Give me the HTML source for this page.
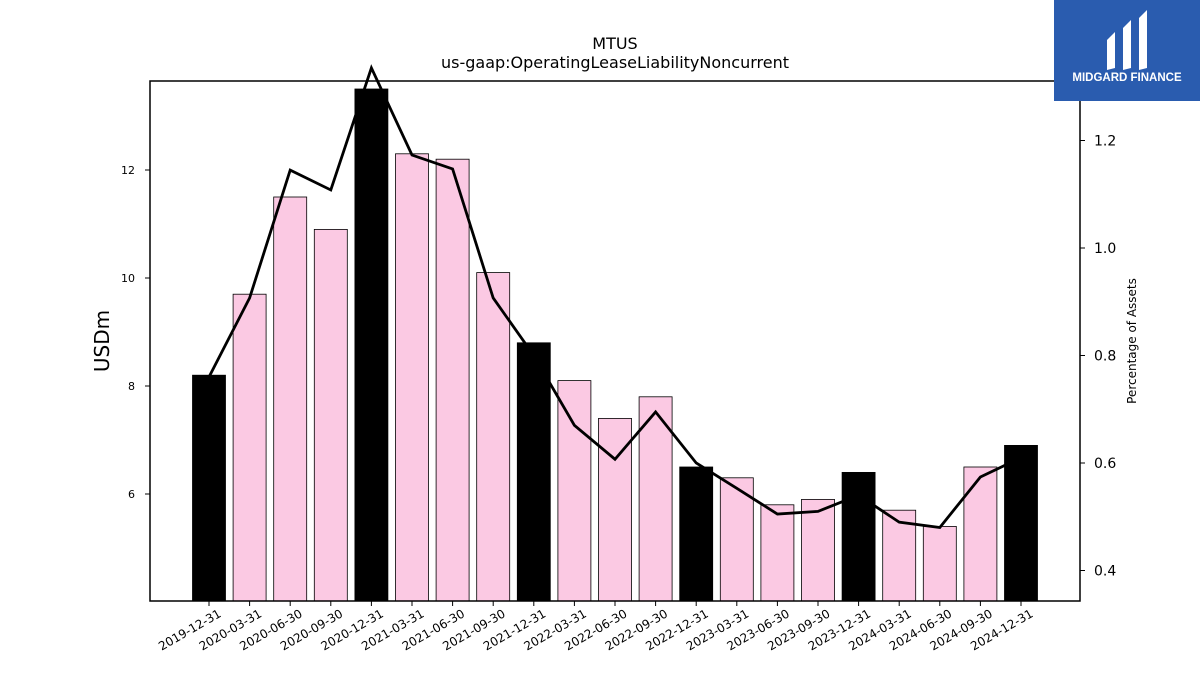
<!DOCTYPE html>
<html><head><meta charset="utf-8"><style>
body{margin:0;background:#fff;font-family:"Liberation Sans","DejaVu Sans",sans-serif}
svg text{font-family:"DejaVu Sans","Liberation Sans",sans-serif}
</style></head><body>
<svg id="c" width="1200" height="675" xmlns="http://www.w3.org/2000/svg">
<text x="615" y="49" text-anchor="middle" font-size="16">MTUS</text>
<text x="615" y="68" text-anchor="middle" font-size="16">us-gaap:OperatingLeaseLiabilityNoncurrent</text>
<g id="bars"></g>
<g id="axes"></g>
<rect x="150" y="81" width="930" height="520" fill="none" stroke="#000" stroke-width="1.5"/>
<text transform="translate(109,341) rotate(-90)" text-anchor="middle" font-size="20">USDm</text>
<text transform="translate(1136,341) rotate(-90)" text-anchor="middle" font-size="12">Percentage of Assets</text>
<g>
<rect x="1054" y="0" width="146" height="101" fill="#2a5caf"/>
<path d="M1107 40 L1115 32 L1115 68 L1107 70 Z" fill="#fff"/>
<path d="M1123 28 L1131 20 L1131 68 L1123 70 Z M1124 42 L1130 48 L1124 52 Z" fill="#fff"/>
<path d="M1139 18 L1147 10 L1147 68 L1139 70 Z" fill="#fff"/>
<text x="1127" y="81" text-anchor="middle" font-size="11.5" font-weight="bold" fill="#fff" style="font-family:'Liberation Sans',sans-serif">MIDGARD FINANCE</text>
</g>
</svg>
<script>
const categories=["2019-12-31","2020-03-31","2020-06-30","2020-09-30","2020-12-31","2021-03-31","2021-06-30","2021-09-30","2021-12-31","2022-03-31","2022-06-30","2022-09-30","2022-12-31","2023-03-31","2023-06-30","2023-09-30","2023-12-31","2024-03-31","2024-06-30","2024-09-30","2024-12-31"];
const barValues=[8.2,9.7,11.5,10.9,13.5,12.3,12.2,10.1,8.8,8.1,7.4,7.8,6.5,6.3,5.8,5.9,6.4,5.7,5.4,6.5,6.9];
const pctValues=[0.76,0.907,1.145,1.108,1.335,1.173,1.147,0.907,0.80,0.736,0.67,0.607,0.695,0.60,0.553,0.505,0.51,0.54,0.49,0.48,0.574,0.61];
pctValues.splice(9,1); // keep 21 points
const leftTicks=[6,8,10,12];
const rightTicks=[0.4,0.6,0.8,1.0,1.2];
const NS="http://www.w3.org/2000/svg";
const yL=v=>494-(v-6)*54;
const yR=v=>248-(v-1.0)*537.5;
const xC=i=>209+i*40.6;
const bars=document.getElementById('bars'),axes=document.getElementById('axes');
function mk(t,a,p){const e=document.createElementNS(NS,t);for(const k in a)e.setAttribute(k,a[k]);p.appendChild(e);return e;}
barValues.forEach((v,i)=>{
 const r=mk('rect',{x:xC(i)-16.5,y:yL(v),width:33,height:601-yL(v),fill:i%4===0?'#000':'#fbc9e3',stroke:'#000','stroke-width':0.8},bars);
 
 
 mk('line',{x1:xC(i),x2:xC(i),y1:601,y2:606,stroke:'#000'},axes);
 const t=mk('text',{transform:`translate(${xC(i)+13},${616}) rotate(-30)`,'text-anchor':'end','font-size':12},axes);
 t.textContent=categories[i];
 
 
});
leftTicks.forEach(v=>{
 mk('line',{x1:145,x2:150,y1:yL(v),y2:yL(v),stroke:'#000'},axes);
 const t=mk('text',{x:135,y:yL(v)+4,'text-anchor':'end','font-size':11},axes);
 t.textContent=v;
 
 
});
rightTicks.forEach(v=>{
 mk('line',{x1:1080,x2:1085,y1:yR(v),y2:yR(v),stroke:'#000'},axes);
 const t=mk('text',{x:1094,y:yR(v)+5,'font-size':14},axes);
 t.textContent=v.toFixed(1);
 
 
});
const pl=mk('polyline',{points:pctValues.map((v,i)=>xC(i)+','+yR(v)).join(' '),fill:'none',stroke:'#000','stroke-width':2.8},document.getElementById('c'));


</script>
</body></html>
